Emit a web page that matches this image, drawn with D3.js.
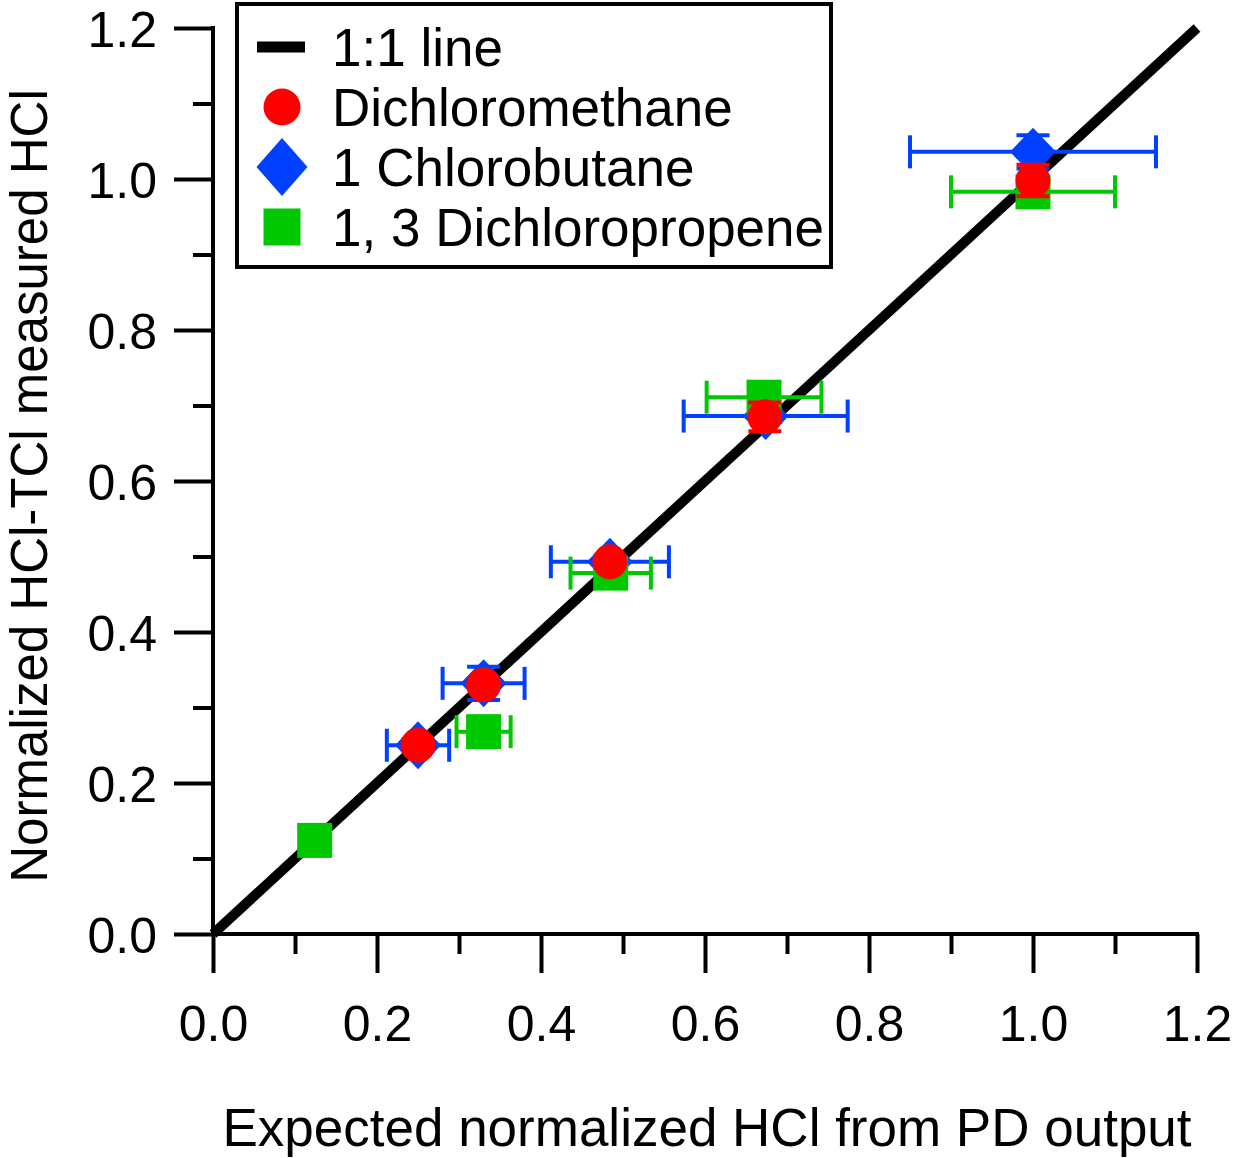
<!DOCTYPE html>
<html>
<head>
<meta charset="utf-8">
<script src="https://cdn.jsdelivr.net/npm/d3@7"></script>
<style>
html,body{margin:0;padding:0;background:#fff;}
svg{display:block;font-family:"Liberation Sans",Arial,Helvetica,sans-serif;}
</style>
</head>
<body>
<svg id="chart" width="1233" height="1158"></svg>
<script>
// ---- data ----
const majorTicks = [0.0, 0.2, 0.4, 0.6, 0.8, 1.0, 1.2];
const minorTicks = [0.1, 0.3, 0.5, 0.7, 0.9, 1.1];
const lineX = [0, 1.2];
const lineY = [0, 1.2];

const seriesNames = ["1:1 line", "Dichloromethane", "1 Chlorobutane", "1, 3 Dichloropropene"];

const cbX    = [0.250, 0.330, 0.484, 0.674, 1.000];
const cbY    = [0.250, 0.332, 0.493, 0.686, 1.036];
const cbXerr = [0.038, 0.050, 0.072, 0.100, 0.150];
const cbYerr = [0.008, 0.022, 0.008, 0.008, 0.022];

const dcpX    = [0.124, 0.330, 0.485, 0.672, 1.000];
const dcpY    = [0.124, 0.268, 0.478, 0.711, 0.983];
const dcpXerr = [0.000, 0.033, 0.049, 0.070, 0.100];
const dcpYerr = [0.000, 0.000, 0.000, 0.000, 0.000];

const dcmX    = [0.250, 0.330, 0.484, 0.673, 1.000];
const dcmY    = [0.250, 0.330, 0.493, 0.685, 0.998];
const dcmXerr = [0.000, 0.000, 0.000, 0.000, 0.000];
const dcmYerr = [0.000, 0.000, 0.000, 0.019, 0.021];

// ---- layout ----
const svg = d3.select("#chart");
const x = d3.scaleLinear().domain([0, 1.2]).range([213, 1197]);
const y = d3.scaleLinear().domain([0, 1.2]).range([934, 28]);
const AX = 4;
const COLORS = {red: "#ff0000", blue: "#0040ff", green: "#00c800"};

// axes
const xAxisG = svg.append("g").attr("transform", "translate(0,934)");
xAxisG.call(d3.axisBottom(x).tickValues(majorTicks).tickSize(39).tickPadding(32).tickFormat(d3.format(".1f")));
const xMinorG = svg.append("g").attr("transform", "translate(0,934)");
xMinorG.call(d3.axisBottom(x).tickValues(minorTicks).tickSize(20).tickFormat(""));

const yAxisG = svg.append("g").attr("transform", "translate(213,0)");
yAxisG.call(d3.axisLeft(y).tickValues(majorTicks).tickSize(39).tickPadding(17).tickFormat(d3.format(".1f")));
const yMinorG = svg.append("g").attr("transform", "translate(213,0)");
yMinorG.call(d3.axisLeft(y).tickValues(minorTicks).tickSize(20).tickFormat(""));

[xAxisG, xMinorG, yAxisG, yMinorG].forEach(g => {
  g.select(".domain").attr("stroke", "#000").attr("stroke-width", AX).attr("d", null);
  g.selectAll(".tick line").attr("stroke", "#000").attr("stroke-width", AX);
  g.selectAll(".tick text").attr("fill", "#000").attr("font-size", 50).attr("font-family", "Liberation Sans, Arial, sans-serif");
});
xMinorG.select(".domain").remove();
yMinorG.select(".domain").remove();
xAxisG.select(".domain").attr("d", `M${x(0)},0H${x(1.2)}`).attr("stroke-linecap", "square");
yAxisG.select(".domain").attr("d", `M0,${y(0)}V${y(1.2)}`).attr("stroke-linecap", "square");
xAxisG.selectAll(".tick text").attr("dy", "0.71em");
yAxisG.selectAll(".tick text").attr("dy", "0.36em");

// axis titles
svg.append("text")
  .attr("x", (x(0) + x(1.2)) / 2 + 2).attr("y", 1146)
  .attr("text-anchor", "middle").attr("font-size", 53).attr("fill", "#000")
  .text("Expected normalized HCl from PD output");
svg.append("text")
  .attr("transform", `translate(47,${(y(0) + y(1.2)) / 2 + 5}) rotate(-90)`)
  .attr("text-anchor", "middle").attr("font-size", 51).attr("fill", "#000")
  .text("Normalized HCl-TCl measured HCl");

// 1:1 line
const plot = svg.append("g");
plot.append("path")
  .datum(lineX.map((v, i) => [v, lineY[i]]))
  .attr("d", d3.line().x(d => x(d[0])).y(d => y(d[1])))
  .attr("stroke", "#000").attr("stroke-width", 10).attr("fill", "none");

// error bars + markers
const CAP = 16.5;
function drawErrors(g, xs, ys, xe, ye, color) {
  xs.forEach((xv, i) => {
    const cx = x(xv), cy = y(ys[i]);
    if (xe[i] > 0) {
      const x1 = x(xv - xe[i]), x2 = x(xv + xe[i]);
      g.append("line").attr("x1", x1).attr("x2", x2).attr("y1", cy).attr("y2", cy).attr("stroke", color).attr("stroke-width", 4);
      [x1, x2].forEach(xx => g.append("line").attr("x1", xx).attr("x2", xx).attr("y1", cy - CAP).attr("y2", cy + CAP).attr("stroke", color).attr("stroke-width", 4));
    }
    if (ye[i] > 0) {
      const y1 = y(ys[i] - ye[i]), y2 = y(ys[i] + ye[i]);
      g.append("line").attr("x1", cx).attr("x2", cx).attr("y1", y1).attr("y2", y2).attr("stroke", color).attr("stroke-width", 4);
      [y1, y2].forEach(yy => g.append("line").attr("x1", cx - CAP).attr("x2", cx + CAP).attr("y1", yy).attr("y2", yy).attr("stroke", color).attr("stroke-width", 4));
    }
  });
}
function diamondPath(cx, cy, w, h) {
  return `M${cx},${cy - h / 2}L${cx + w / 2},${cy}L${cx},${cy + h / 2}L${cx - w / 2},${cy}Z`;
}

// Chlorobutane (blue diamonds)
const gB = plot.append("g");
drawErrors(gB, cbX, cbY, cbXerr, cbYerr, COLORS.blue);
gB.selectAll("path.m").data(cbX.map((v, i) => [v, cbY[i]])).join("path")
  .attr("d", d => diamondPath(x(d[0]), y(d[1]), 46, 48)).attr("fill", COLORS.blue);

// Dichloropropene (green squares)
const gG = plot.append("g");
drawErrors(gG, dcpX, dcpY, dcpXerr, dcpYerr, COLORS.green);
gG.selectAll("rect.m").data(dcpX.map((v, i) => [v, dcpY[i]])).join("rect")
  .attr("x", d => x(d[0]) - 17.5).attr("y", d => y(d[1]) - 17.5)
  .attr("width", 35).attr("height", 35).attr("fill", COLORS.green);

// Dichloromethane (red circles)
const gR = plot.append("g");
drawErrors(gR, dcmX, dcmY, dcmXerr, dcmYerr, COLORS.red);
gR.selectAll("circle.m").data(dcmX.map((v, i) => [v, dcmY[i]])).join("circle")
  .attr("cx", d => x(d[0])).attr("cy", d => y(d[1])).attr("r", 17.5).attr("fill", COLORS.red);

// legend
const lg = svg.append("g");
lg.append("rect").attr("x", 237).attr("y", 4).attr("width", 594).attr("height", 263)
  .attr("fill", "#fff").attr("stroke", "#000").attr("stroke-width", 4);
const rowY = [47, 107, 167, 227];
const symX = 282;
lg.append("line").attr("x1", 257).attr("x2", 305).attr("y1", rowY[0]).attr("y2", rowY[0])
  .attr("stroke", "#000").attr("stroke-width", 11);
lg.append("circle").attr("cx", symX).attr("cy", rowY[1]).attr("r", 18.5).attr("fill", COLORS.red);
lg.append("path").attr("d", diamondPath(symX, rowY[2], 51, 58)).attr("fill", COLORS.blue);
lg.append("rect").attr("x", symX - 18.5).attr("y", rowY[3] - 18.5).attr("width", 37).attr("height", 37).attr("fill", COLORS.green);
lg.selectAll("text.lab").data(seriesNames).join("text")
  .attr("x", 332).attr("y", (d, i) => rowY[i]).attr("dy", "0.36em")
  .attr("font-size", 53).attr("fill", "#000").text(d => d);
</script>
</body>
</html>
